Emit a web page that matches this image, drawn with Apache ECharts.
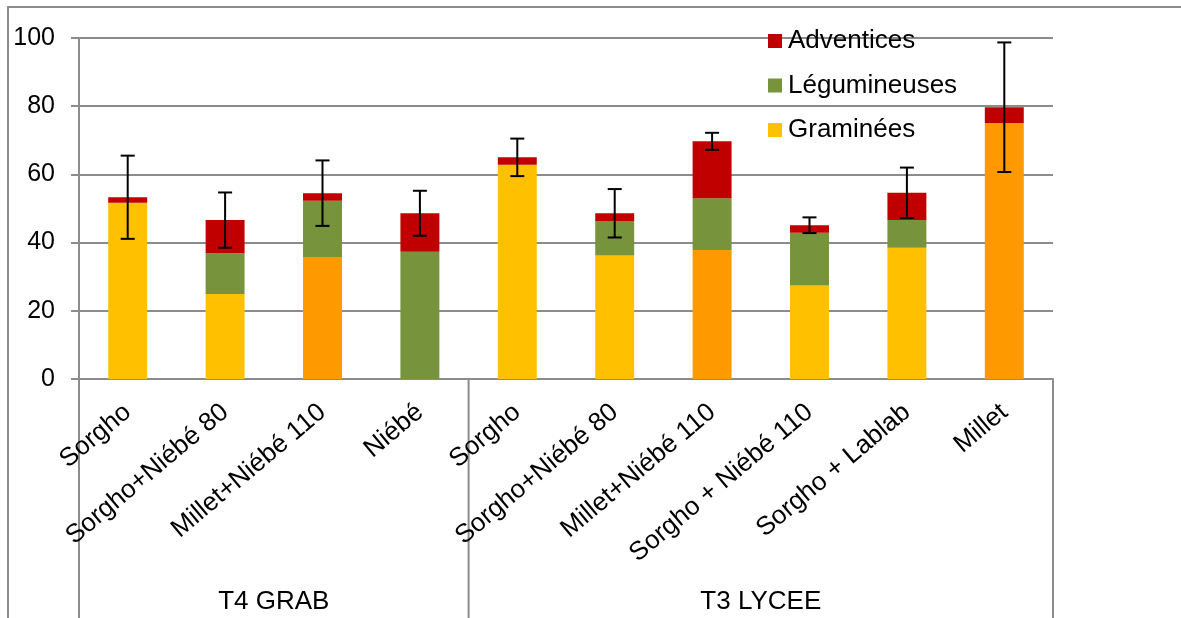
<!DOCTYPE html>
<html><head><meta charset="utf-8">
<script src="https://cdn.jsdelivr.net/npm/echarts@6/dist/echarts.min.js"></script>
<style>html,body{margin:0;padding:0;background:#fff}#c{width:1181px;height:618px}</style>
</head><body><div id="c"></div>
<script>
const categories = ['Sorgho','Sorgho+Niébé 80','Millet+Niébé 110','Niébé','Sorgho','Sorgho+Niébé 80','Millet+Niébé 110','Sorgho + Niébé 110','Sorgho + Lablab','Millet'];
const groupNames = ['T4 GRAB','T3 LYCEE'];
const groupSizes = [4, 6];
const graminees    = [51.7, 24.9, 35.8, 0,    62.8, 36.2, 37.8, 27.4, 38.5, 75.1];
const legumineuses = [0,    12.0, 16.5, 37.3, 0,    10.1, 15.2, 15.5, 8.1,  0];
const adventices   = [1.6,  9.7,  2.2,  11.3, 2.2,  2.3,  16.7, 2.2,  8.0,  4.6];
const errors       = [12.2, 8.1,  9.6,  6.6,  5.5,  7.1,  2.5,  2.3,  7.4,  19.0];

const C_YELLOW = '#FFC000', C_ORANGE = '#FF9900', C_GREEN = '#77933C', C_RED = '#C00000';
const GRAY = '#8c8c8c';
const FONT = 'Liberation Sans, Arial, sans-serif';

const chart = echarts.init(document.getElementById('c'), null, {renderer: 'canvas'});
const totals = categories.map((c, i) => graminees[i] + legumineuses[i] + adventices[i]);

const option = {
  animation: false,
  textStyle: {fontFamily: FONT},
  grid: {left: 79, right: 128, top: 38, bottom: 239},
  legend: {
    data: ['Adventices', 'Légumineuses', 'Graminées'],
    orient: 'vertical', left: 763, top: 23,
    itemWidth: 14, itemHeight: 14, itemGap: 18.5,
    icon: 'rect',
    textStyle: {fontSize: 26, color: '#000', fontFamily: FONT, padding: [0,0,0,1]}
  },
  xAxis: {
    type: 'category', data: categories,
    axisLine: {lineStyle: {color: GRAY, width: 2}},
    axisTick: {show: false},
    axisLabel: {rotate: 40, margin: 30, interval: 0, fontSize: 26, color: '#000', fontFamily: FONT}
  },
  yAxis: {
    type: 'value', min: 0, max: 100, interval: 20,
    axisLine: {show: true, lineStyle: {color: GRAY, width: 2}},
    axisTick: {show: true, length: 8, lineStyle: {color: GRAY, width: 2}},
    splitLine: {lineStyle: {color: GRAY, width: 2}},
    axisLabel: {fontSize: 25, color: '#000', margin: 24, fontFamily: FONT}
  },
  series: [
    {name: 'Graminées', type: 'bar', stack: 's', barWidth: '40%',
     itemStyle: {color: C_YELLOW},
     data: graminees.map((v, i) => ({value: v, itemStyle: {color: categories[i].startsWith('Millet') ? C_ORANGE : C_YELLOW}}))},
    {name: 'Légumineuses', type: 'bar', stack: 's', barWidth: '40%', itemStyle: {color: C_GREEN}, data: legumineuses},
    {name: 'Adventices', type: 'bar', stack: 's', barWidth: '40%', itemStyle: {color: C_RED}, data: adventices},
    {name: 'err', type: 'custom', z: 10,
     data: categories.map((c, i) => [i, totals[i], errors[i]]),
     renderItem: function (params, api) {
       const x = api.value(0), t = api.value(1), e = api.value(2);
       const hi = api.coord([x, t + e]), lo = api.coord([x, t - e]);
       const w = 7, st = {stroke: '#000', lineWidth: 2};
       return {type: 'group', children: [
         {type: 'line', shape: {x1: hi[0], y1: hi[1], x2: lo[0], y2: lo[1]}, style: st},
         {type: 'line', shape: {x1: hi[0] - w, y1: hi[1], x2: hi[0] + w, y2: hi[1]}, style: st},
         {type: 'line', shape: {x1: lo[0] - w, y1: lo[1], x2: lo[0] + w, y2: lo[1]}, style: st}
       ]};
     }}
  ]
};
chart.setOption(option);

// group separators and group labels
const c0 = chart.convertToPixel({xAxisIndex: 0}, 0);
const c1 = chart.convertToPixel({xAxisIndex: 0}, 1);
const band = c1 - c0;
const yBase = chart.convertToPixel({yAxisIndex: 0}, 0);
const graphics = [
  {type: 'polyline', shape: {points: [[8, 618], [8, 7], [1181, 7]]}, style: {stroke: GRAY, lineWidth: 2, fill: null}, silent: true}
];
let start = 0;
const bounds = [c0 - band / 2];
groupSizes.forEach((n, g) => {
  const left = c0 + (start - 0.5) * band;
  const right = c0 + (start + n - 0.5) * band;
  bounds.push(right);
  graphics.push({type: 'text', x: (left + right) / 2, y: 602,
    style: {text: groupNames[g], fontSize: 26, fill: '#000', fontFamily: FONT, align: 'center', verticalAlign: 'middle'}});
  start += n;
});
bounds.forEach(bx => {
  graphics.push({type: 'line', shape: {x1: bx, y1: yBase, x2: bx, y2: 618}, style: {stroke: GRAY, lineWidth: 2}});
});
chart.setOption({graphic: graphics});
</script>
</body></html>
